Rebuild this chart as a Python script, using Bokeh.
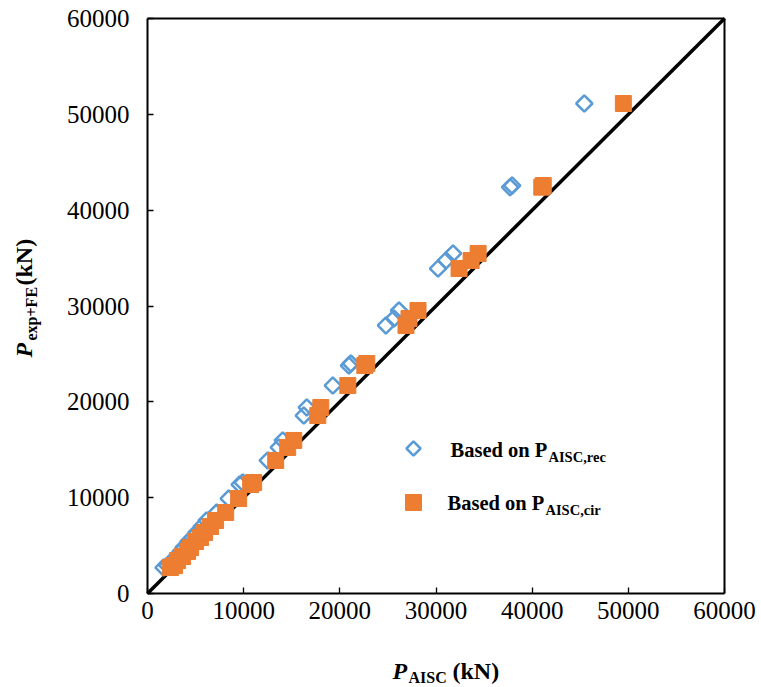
import math
from bokeh.plotting import figure
from bokeh.models import Range1d, FixedTicker, Label, LinearAxis
from bokeh.embed import file_html
from bokeh.resources import INLINE

# ---- data (kN) ----
p_exp_fe = [2710, 2920, 3440, 3860, 4380, 4800, 5430, 5840, 6370, 6990, 7620, 8450,
            9910, 11370, 11580, 13880, 15240, 15970, 18570, 19410, 21700, 23790, 24000,
            27970, 28700, 29530, 33910, 34750, 35480, 42400, 42570, 51130]
p_aisc_rec = [1670, 2080, 2600, 3020, 3440, 3750, 4270, 4690, 5100, 5630, 6150, 7190,
              8440, 9580, 9900, 12500, 13650, 14060, 16250, 16560, 19270, 20940, 21150,
              24790, 25630, 26150, 30210, 31040, 31770, 37700, 37920, 45420]
p_aisc_cir = [2400, 2810, 3130, 3650, 4170, 4480, 5000, 5520, 5940, 6560, 7080, 8130,
              9480, 10730, 11040, 13330, 14580, 15210, 17710, 18020, 20830, 22600, 22800,
              26880, 27190, 28130, 32400, 33650, 34380, 41000, 41150, 49480]
line_xy = [0, 60000]
ticks = [0, 10000, 20000, 30000, 40000, 50000, 60000]

BLUE = "#5B9BD5"
ORANGE = "#ED7D31"
FONT = "Liberation Serif"

W, H = 761, 687
# pixel box of the chart area inside the canvas
BX0, BX1, BY0, BY1 = 147, 724, 18, 593
XMAX, YMAX = 60000, 60000
SX = XMAX / (BX1 - BX0)
SY = YMAX / (BY1 - BY0)
x_start = -BX0 * SX
x_end = x_start + W * SX
y_start = -(H - BY1) * SY
y_end = y_start + H * SY

def dx(px):
    return (px - BX0) * SX

def dy(py):
    return (BY1 - py) * SY

p = figure(width=W, height=H, output_backend="svg", toolbar_location=None,
           x_range=Range1d(x_start, x_end), y_range=Range1d(y_start, y_end),
           min_border=0)
p.title.visible = False
p.xgrid.visible = False
p.ygrid.visible = False
p.outline_line_color = None
p.background_fill_color = "white"
p.border_fill_color = "white"

def style_axis(ax, labels=True):
    ax.ticker = FixedTicker(ticks=ticks)
    ax.bounds = (0, 60000)
    ax.minor_tick_line_color = None
    ax.axis_line_color = "black"
    ax.axis_line_width = 2
    if labels:
        ax.major_tick_in = 6
        ax.major_tick_out = 0
        ax.major_tick_line_color = "black"
        ax.major_tick_line_width = 1.3
        ax.major_label_text_font = FONT
        ax.major_label_text_font_size = "25px"
        ax.major_label_text_color = "black"
    else:
        ax.major_tick_line_color = None
        ax.major_label_text_color = None
        ax.major_label_text_font_size = "0px"

xa = p.xaxis[0]
ya = p.yaxis[0]
xa.fixed_location = 0
ya.fixed_location = 0
style_axis(xa)
style_axis(ya)
xa.major_label_standoff = 8
ya.major_label_standoff = 18

top_ax = LinearAxis(fixed_location=60000)
right_ax = LinearAxis(fixed_location=60000)
style_axis(top_ax, labels=False)
style_axis(right_ax, labels=False)
p.add_layout(top_ax, "above")
p.add_layout(right_ax, "right")

# 1:1 line
p.line(line_xy, line_xy, line_color="black", line_width=3.5)

# data
p.scatter(p_aisc_rec, p_exp_fe, marker="square", angle=math.pi / 4, size=11.5,
          fill_color=None, line_color=BLUE, line_width=2.5)
p.scatter(p_aisc_cir, p_exp_fe, marker="square", size=16,
          fill_color=ORANGE, line_color=ORANGE, line_width=1)

# legend markers
p.scatter([dx(413)], [dy(448)], marker="square", angle=math.pi / 4, size=10,
          fill_color=None, line_color=BLUE, line_width=2.5)
p.scatter([dx(413)], [dy(502)], marker="square", size=16,
          fill_color=ORANGE, line_color=ORANGE)

SHIFT = 0.38  # renderer puts the alphabetic baseline this fraction of the size lower

def lab(text, px, py, size, style="bold", angle=0.0):
    s = SHIFT * size
    if angle:
        px -= s
    else:
        py -= s
    p.add_layout(Label(x=dx(px), y=dy(py), text=text, text_font=FONT,
                       text_font_size=f"{size}px", text_font_style=style,
                       text_color="black", text_align="left",
                       text_baseline="alphabetic", angle=angle))

# legend texts
lab("Based on P", 450, 457, 20.5)
lab("AISC,rec", 548, 462, 14.5)
lab("Based on P", 447, 510, 20.5)
lab("AISC,cir", 545, 515, 14.5)

# x-axis title
lab("P", 392, 680, 24, "bold italic")
lab("AISC", 408, 683, 16)
lab("(kN)", 452, 680, 24)

# y-axis title (rotated)
A = math.pi / 2
lab("P", 33, 357, 24, "bold italic", A)
lab("exp+FE", 37, 340, 16, "bold", A)
lab("(kN)", 33, 285, 24, "bold", A)

open("out.html", "w").write(file_html(p, INLINE))
